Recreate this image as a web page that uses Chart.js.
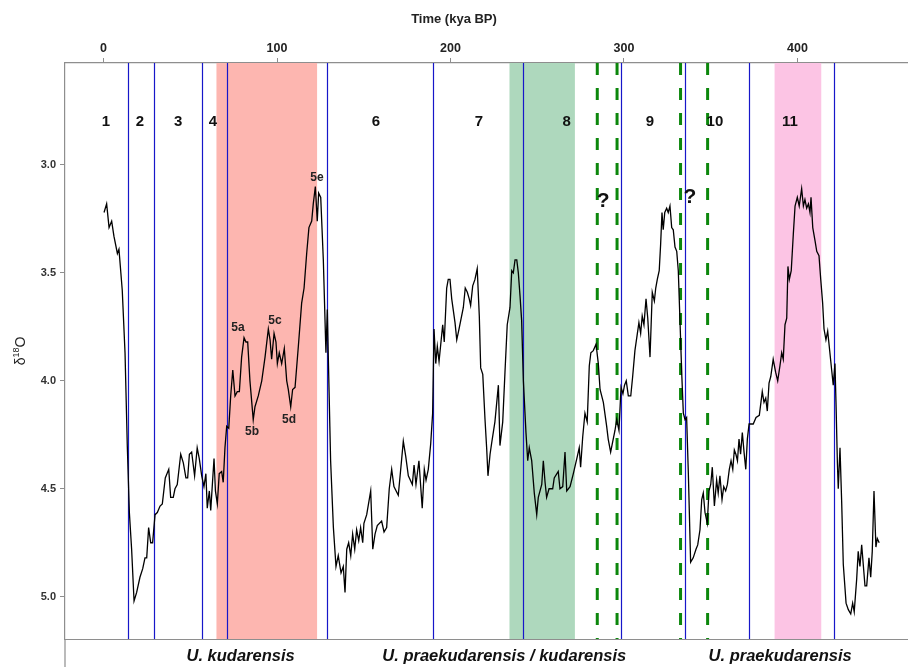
<!DOCTYPE html>
<html>
<head>
<meta charset="utf-8">
<script src="https://cdn.jsdelivr.net/npm/chart.js@4/dist/chart.umd.min.js"></script>
<style>
  html, body { margin: 0; padding: 0; background: #ffffff; }
  #wrap { width: 908px; height: 667px; position: relative; }
</style>
</head>
<body>
<div id="wrap"><canvas id="c" width="908" height="667"></canvas></div>
<script>
// Benthic oxygen-isotope record (age in kya BP, δ18O in ‰)
const timeKya = [
  0.3, 1.8, 3.2, 4.7, 6.0, 8.0, 8.9, 10.8, 12.4, 13.7, 14.9, 16.2, 17.6, 19.1, 21.0, 22.6, 23.9, 24.9,
  26.0, 27.2, 28.3, 29.7, 31.0, 32.6, 33.9, 35.6, 37.6, 38.7, 40.2, 41.2, 42.5, 44.5, 46.0, 47.5, 48.5,
  49.5, 50.8, 52.5, 54.0, 55.2, 56.6, 57.9, 59.0, 59.8, 61.0, 61.8, 62.9, 63.7, 64.5, 65.6, 66.7, 68.1,
  69.0, 70.0, 71.0, 72.2, 73.3, 74.5, 75.8, 77.1, 78.3, 79.6, 81.0, 82.1, 83.1, 84.4, 86.3, 87.3, 89.2,
  91.2, 93.1, 95.0, 96.0, 96.9, 98.3, 99.4, 100.2, 101.3, 102.7, 104.2, 105.6, 106.5, 107.9, 109.0,
  110.4, 112.3, 114.2, 115.6, 117.1, 118.4, 120.0, 120.9, 122.1, 123.2, 124.0, 125.2, 126.7, 128.2,
  129.0, 129.6, 130.9, 132.5, 134.0, 135.3, 136.9, 138.2, 139.2, 140.2, 141.3, 142.5, 143.6, 144.8,
  145.9, 147.1, 148.2, 149.4, 150.1, 151.7, 154.0, 155.2, 156.5, 157.8, 160.3, 161.7, 163.2, 164.7,
  166.1, 167.4, 169.9, 171.3, 172.8, 174.2, 175.7, 178.0, 179.0, 180.1, 181.8, 183.7, 184.9, 185.9,
  187.2, 188.6, 189.7, 190.5, 191.5, 192.4, 193.4, 195.5, 196.4, 197.8, 198.7, 199.7, 200.7, 202.6,
  203.6, 204.9, 207.4, 208.5, 209.7, 210.8, 211.6, 212.8, 214.1, 215.4, 216.6, 217.4, 218.6, 219.9,
  220.9, 221.6, 222.8, 223.7, 225.6, 227.6, 228.5, 230.1, 231.4, 232.7, 234.3, 235.3, 236.2, 237.2,
  238.2, 239.1, 240.1, 241.0, 242.0, 243.5, 244.5, 245.4, 246.8, 248.3, 249.7, 250.6, 252.6, 253.5,
  254.5, 255.4, 256.8, 258.9, 259.8, 262.1, 263.1, 264.7, 266.0, 267.0, 268.9, 270.8, 273.1, 274.2,
  275.0, 276.2, 277.5, 278.8, 280.0, 280.9, 282.3, 283.9, 285.2, 286.2, 288.1, 290.0, 290.9, 292.3,
  294.8, 295.8, 297.1, 298.3, 299.4, 300.3, 301.3, 302.5, 303.9, 305.0, 306.3, 308.6, 309.6, 310.5,
  311.5, 312.7, 313.7, 315.0, 316.3, 317.5, 318.3, 319.2, 320.3, 321.1, 321.9, 322.6, 323.5, 324.6,
  325.5, 326.5, 327.5, 328.4, 329.4, 330.4, 331.3, 332.3, 333.3, 334.2, 335.2, 336.1, 337.1, 338.4,
  339.9, 341.5, 342.5, 343.8, 344.8, 345.7, 346.7, 348.0, 349.0, 350.0, 350.9, 352.1, 353.4, 354.3,
  355.3, 356.5, 357.5, 358.6, 359.6, 360.7, 361.7, 362.7, 363.6, 364.5, 365.4, 366.3, 367.2, 368.2,
  369.2, 370.2, 371.1, 372.1, 374.5, 376.1, 378.0, 379.7, 380.7, 381.7, 382.6, 383.6, 384.6, 386.0,
  387.4, 388.6, 389.9, 390.9, 391.8, 392.8, 393.8, 394.5, 395.3, 396.4, 397.6, 398.6, 399.9, 401.0,
  402.4, 403.4, 404.3, 405.3, 406.3, 407.2, 407.8, 408.8, 410.1, 411.1, 412.4, 413.4, 414.5, 415.3,
  416.4, 417.4, 418.3, 419.7, 420.6, 421.6, 422.2, 423.0, 423.5, 424.5, 425.5, 426.4, 428.0, 429.3,
  430.7, 431.8, 432.7, 434.1, 435.0, 436.0, 437.0, 437.9, 438.9, 439.9, 441.2, 442.2, 443.1, 444.1,
  445.2, 446.0, 447.1
];
const d18O = [
  3.22, 3.18, 3.29, 3.26, 3.33, 3.41, 3.39, 3.58, 3.87, 4.30, 4.61, 4.78, 5.02, 4.98, 4.91, 4.87, 4.82, 4.82,
  4.68, 4.75, 4.75, 4.62, 4.61, 4.58, 4.57, 4.45, 4.41, 4.54, 4.54, 4.50, 4.48, 4.34, 4.38, 4.45, 4.45,
  4.34, 4.33, 4.44, 4.31, 4.36, 4.44, 4.49, 4.43, 4.59, 4.51, 4.60, 4.46, 4.36, 4.51, 4.57, 4.43, 4.42,
  4.47, 4.31, 4.21, 4.22, 4.07, 3.95, 4.07, 4.05, 4.05, 3.89, 3.80, 3.82, 3.82, 4.00, 4.18, 4.12, 4.07,
  4.00, 3.89, 3.76, 3.81, 3.90, 3.78, 3.82, 3.92, 3.87, 3.92, 3.85, 4.00, 4.04, 4.12, 4.04,
  4.03, 3.84, 3.64, 3.57, 3.41, 3.29, 3.26, 3.18, 3.10, 3.26, 3.13, 3.15, 3.44, 3.87,
  3.67, 3.90, 4.37, 4.68, 4.86, 4.81, 4.89, 4.86, 4.98, 4.78, 4.75, 4.81, 4.71, 4.78,
  4.69, 4.74, 4.68, 4.75, 4.66, 4.62, 4.51, 4.78, 4.71, 4.67, 4.65, 4.70, 4.68, 4.50,
  4.41, 4.49, 4.53, 4.41, 4.28, 4.35, 4.44, 4.48, 4.39, 4.48, 4.37, 4.59, 4.41, 4.46,
  4.41, 4.29, 4.15, 3.76, 3.92, 3.84, 3.91, 3.74, 3.82, 3.57, 3.53, 3.53, 3.62, 3.73,
  3.81, 3.76, 3.66, 3.57, 3.59, 3.62, 3.65, 3.56, 3.53, 3.48, 3.70, 3.94, 3.97, 4.18,
  4.32, 4.44, 4.34, 4.29, 4.19, 4.02, 4.30, 4.19, 3.96, 3.74, 3.66, 3.49, 3.50, 3.44,
  3.44, 3.50, 3.61, 3.72, 4.00, 4.24, 4.37, 4.31, 4.37, 4.52, 4.62, 4.54, 4.48, 4.37,
  4.47, 4.54, 4.50, 4.50, 4.45, 4.42, 4.50, 4.49, 4.33, 4.51, 4.49, 4.43, 4.35, 4.31,
  4.40, 4.26, 4.15, 4.19, 3.93, 3.87, 3.86, 3.83, 3.92, 4.04, 4.10, 4.21, 4.27, 4.33,
  4.23, 4.18, 4.23, 4.03, 4.06, 4.02, 4.00, 4.07, 4.07, 3.98, 3.86, 3.73, 3.78, 3.70,
  3.74, 3.62, 3.71, 3.89, 3.59, 3.63, 3.57, 3.53, 3.49, 3.37, 3.22, 3.30, 3.22, 3.20,
  3.22, 3.19, 3.29, 3.30, 3.38, 3.40, 3.49, 3.73, 3.97, 4.15, 4.18, 4.17, 4.43, 4.84,
  4.82, 4.78, 4.76, 4.69, 4.55, 4.52, 4.61, 4.66, 4.51, 4.48, 4.40, 4.58, 4.46, 4.52,
  4.44, 4.55, 4.49, 4.51, 4.48, 4.41, 4.37, 4.41, 4.32, 4.34, 4.37, 4.27, 4.34, 4.24,
  4.33, 4.41, 4.27, 4.20, 4.20, 4.17, 4.16, 4.05, 4.10, 4.08, 4.14, 4.01, 3.98, 3.90,
  3.96, 4.00, 3.93, 3.87, 3.90, 3.74, 3.71, 3.47, 3.53, 3.49, 3.32, 3.19, 3.15, 3.19,
  3.11, 3.19, 3.16, 3.20, 3.18, 3.22, 3.15, 3.29, 3.35, 3.40, 3.42, 3.53, 3.64, 3.76,
  3.81, 3.77, 3.84, 3.95, 4.02, 3.92, 4.10, 4.38, 4.50, 4.31, 4.57, 4.85, 5.03, 5.06,
  5.08, 5.03, 5.07, 4.92, 4.79, 4.86, 4.76, 4.85, 4.95, 4.95, 4.82, 4.91, 4.79, 4.51,
  4.77, 4.73, 4.75
];

// Axis ticks
const xTicks = [0, 100, 200, 300, 400];
const yTicks = [3.0, 3.5, 4.0, 4.5, 5.0];

// Marine isotope stage boundaries (kya)
const misBoundaries = [14, 29, 57, 71, 129, 190, 242, 298, 335, 372, 421];

// Highlighted intervals (kya)
const bandStart = [65.1, 234.0, 386.8];
const bandEnd = [123.1, 271.7, 413.7];

// Uncertain boundaries (kya)
const dashedMarks = [284.6, 296.0, 332.6, 348.2];

// Stage numbers
const stageLabels = ['1', '2', '3', '4', '6', '7', '8', '9', '10', '11'];
const stageLabelX = [1.4, 21, 43, 63, 157, 216.4, 267, 315, 352.4, 395.7];
const stageLabelY = 2.80;

// MIS 5 substages
const subStageLabels = ['5a', '5b', '5c', '5d', '5e'];
const subStageX = [77.5, 85.6, 98.8, 106.9, 123.0];
const subStageY = [3.755, 4.237, 3.723, 4.18, 3.06];

// Question marks
const queryX = [288, 338];
const queryY = [3.17, 3.15];

// Species strip
const speciesLabels = ['U. kudarensis', 'U. praekudarensis / kudarensis', 'U. praekudarensis'];
const speciesX = [79, 231, 390];

const FONT = '"Liberation Sans", Arial, Helvetica, sans-serif';
const BAND_COLORS = ['rgb(253,182,176)', 'rgb(174,216,189)', 'rgb(252,196,228)'];
const AXIS_GREY = '#8e8e8e';

const overlay = {
  id: 'overlay',
  beforeDatasetsDraw(chart) {
    const { ctx, chartArea: a, scales: { x } } = chart;
    ctx.save();
    ctx.beginPath();
    ctx.rect(a.left, a.top, a.right - a.left, a.bottom - a.top);
    ctx.clip();
    bandStart.forEach((s, i) => {
      const x0 = x.getPixelForValue(s);
      const x1 = x.getPixelForValue(bandEnd[i]);
      ctx.fillStyle = BAND_COLORS[i];
      ctx.fillRect(x0, a.top, x1 - x0, a.bottom - a.top);
    });
    ctx.strokeStyle = '#1717c9';
    ctx.lineWidth = 1.2;
    misBoundaries.forEach(v => {
      const px = Math.round(x.getPixelForValue(v)) + 0.5;
      ctx.beginPath();
      ctx.moveTo(px, a.top);
      ctx.lineTo(px, a.bottom);
      ctx.stroke();
    });
    ctx.strokeStyle = '#0c870c';
    ctx.lineWidth = 3;
    ctx.setLineDash([12, 13]);
    dashedMarks.forEach(v => {
      const px = x.getPixelForValue(v);
      ctx.beginPath();
      ctx.moveTo(px, a.top);
      ctx.lineTo(px, a.bottom);
      ctx.stroke();
    });
    ctx.restore();
  },
  afterDatasetsDraw(chart) {
    const { ctx, scales: { x, y } } = chart;
    ctx.save();
    ctx.textAlign = 'center';
    ctx.textBaseline = 'middle';
    ctx.fillStyle = '#111';
    ctx.font = 'bold 15px ' + FONT;
    stageLabels.forEach((t, i) => {
      ctx.fillText(t, x.getPixelForValue(stageLabelX[i]), y.getPixelForValue(stageLabelY));
    });
    ctx.fillStyle = '#222';
    ctx.font = 'bold 12px ' + FONT;
    subStageLabels.forEach((t, i) => {
      ctx.fillText(t, x.getPixelForValue(subStageX[i]), y.getPixelForValue(subStageY[i]));
    });
    ctx.fillStyle = '#111';
    ctx.font = 'bold 21px ' + FONT;
    queryX.forEach((v, i) => {
      ctx.fillText('?', x.getPixelForValue(v), y.getPixelForValue(queryY[i]));
    });
    ctx.restore();
  },
  afterDraw(chart) {
    const { ctx, chartArea: a, scales: { x } } = chart;
    const W = chart.width, H = chart.height;
    ctx.save();
    // species strip under the panel
    ctx.strokeStyle = AXIS_GREY;
    ctx.lineWidth = 1.2;
    ctx.beginPath();
    ctx.moveTo(a.left, a.bottom + 0.5);
    ctx.lineTo(W, a.bottom + 0.5);
    ctx.moveTo(a.left, a.bottom);
    ctx.lineTo(a.left, H);
    ctx.stroke();
    ctx.fillStyle = '#111';
    ctx.font = 'italic bold 16.5px ' + FONT;
    ctx.textAlign = 'center';
    ctx.textBaseline = 'middle';
    speciesLabels.forEach((t, i) => {
      ctx.fillText(t, x.getPixelForValue(speciesX[i]), (a.bottom + H) / 2 + 3);
    });
    // y-axis title: δ18O with superscript
    const cy = (a.top + a.bottom) / 2;
    ctx.translate(20, cy);
    ctx.rotate(-Math.PI / 2);
    ctx.textAlign = 'left';
    ctx.textBaseline = 'alphabetic';
    ctx.fillStyle = '#222';
    const big = '14px ' + FONT, small = '9px ' + FONT;
    ctx.font = big; const wd = ctx.measureText('δ').width;
    ctx.font = small; const w18 = ctx.measureText('18').width;
    ctx.font = big; const wo = ctx.measureText('O').width;
    let sx = -(wd + w18 + wo) / 2;
    const base = 5;
    ctx.font = big; ctx.fillText('δ', sx, base); sx += wd;
    ctx.font = small; ctx.fillText('18', sx, base - 6); sx += w18;
    ctx.font = big; ctx.fillText('O', sx, base);
    ctx.restore();
  }
};

new Chart(document.getElementById('c'), {
  type: 'line',
  data: {
    datasets: [{
      data: timeKya.map((t, i) => ({ x: t, y: d18O[i] })),
      borderColor: '#000000',
      borderWidth: 1.3,
      pointRadius: 0,
      tension: 0,
      fill: false
    }]
  },
  options: {
    responsive: false,
    animation: false,
    devicePixelRatio: 1,
    layout: { padding: { left: 0, right: 0, top: 0, bottom: 28 } },
    plugins: {
      legend: { display: false },
      tooltip: { enabled: false },
      title: {
        display: true,
        text: 'Time (kya BP)',
        color: '#222',
        font: { family: FONT, size: 13, weight: 'bold' },
        padding: { top: 12, bottom: 2 }
      }
    },
    scales: {
      x: {
        type: 'linear',
        position: 'top',
        min: -22.2,
        max: 463.7,
        afterBuildTicks(scale) { scale.ticks = xTicks.map(v => ({ value: v })); },
        afterFit(scale) { scale.height = 33.4; },
        ticks: {
          color: '#222',
          padding: 2,
          maxRotation: 0,
          font: { family: FONT, size: 12.5, weight: 'bold' },
          callback: v => String(v)
        },
        grid: { drawOnChartArea: false, drawTicks: true, tickLength: 5, tickColor: AXIS_GREY },
        border: { display: true, color: AXIS_GREY, width: 1.2 }
      },
      y: {
        type: 'linear',
        position: 'left',
        reverse: true,
        min: 2.5275,
        max: 5.196,
        afterBuildTicks(scale) { scale.ticks = yTicks.map(v => ({ value: v })); },
        afterFit(scale) { scale.width = 65; },
        ticks: {
          color: '#333',
          padding: 4,
          font: { family: FONT, size: 11, weight: 'bold' },
          callback: v => Number(v).toFixed(1)
        },
        grid: { drawOnChartArea: false, drawTicks: true, tickLength: 5, tickColor: AXIS_GREY },
        border: { display: true, color: AXIS_GREY, width: 1.2 }
      }
    }
  },
  plugins: [overlay]
});
</script>
</body>
</html>
